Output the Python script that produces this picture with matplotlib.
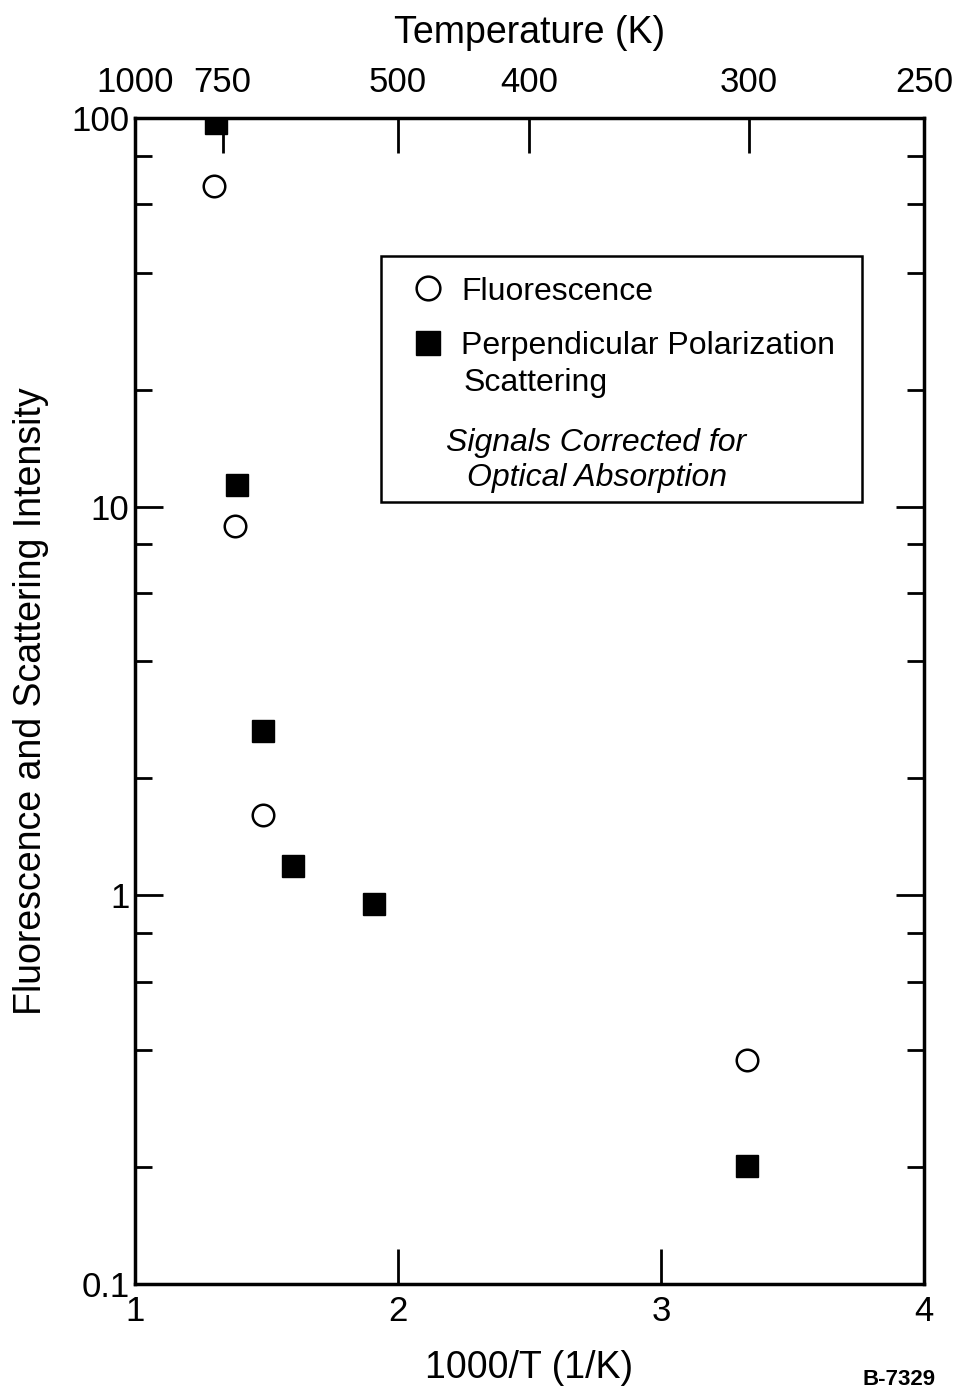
import matplotlib
matplotlib.use("Agg")
from matplotlib import pyplot as plt
from matplotlib.patches import Rectangle

plt.rcParams['font.family'] = ['Liberation Sans', 'DejaVu Sans']

# fluorescence (open circles)
fluor_x = [1.30, 1.38, 1.487, 3.327]
fluor_y = [67.0, 8.9, 1.61, 0.377]

# perpendicular polarization scattering (filled squares)
scat_x = [1.308, 1.388, 1.487, 1.601, 1.909, 3.327]
scat_y = [97.0, 11.4, 2.65, 1.19, 0.95, 0.201]

bottom_ticks = [1, 2, 3, 4]
temp_ticks = [1000, 750, 500, 400, 300, 250]

fig = plt.figure(figsize=(9.56, 13.91), dpi=100)
ax = fig.add_axes([0.1412, 0.0769, 0.8253, 0.8383])

ax.plot(fluor_x, fluor_y, 'o', mfc='white', mec='black', ms=15.5, mew=1.8,
        linestyle='none', label='Fluorescence', zorder=5)
ax.plot(scat_x, scat_y, 's', mfc='black', mec='black', ms=16,
        linestyle='none', label='Perpendicular Polarization', zorder=5)

ax.set_yscale('log')
ax.set_xlim(1, 4)
ax.set_ylim(0.1, 100)

ax.set_xticks(bottom_ticks)
ax.set_xticklabels([str(t) for t in bottom_ticks])
ax.set_yticks([0.1, 1, 10, 100])
ax.set_yticklabels(['0.1', '1', '10', '100'])
ax.yaxis.set_minor_locator(matplotlib.ticker.LogLocator(base=10, subs=[2, 4, 6, 8]))
ax.yaxis.set_minor_formatter(matplotlib.ticker.NullFormatter())

ax.tick_params(axis='both', which='major', direction='in', length=20, width=2,
               labelsize=25)
ax.tick_params(axis='y', which='major', right=True, left=True, pad=4)
ax.tick_params(axis='y', which='minor', direction='in', length=12, width=2,
               right=True, left=True)
ax.tick_params(axis='x', which='major', length=25, pad=8)
for s in ax.spines.values():
    s.set_linewidth(2.5)

ax.set_xlabel('1000/T (1/K)', fontsize=27, labelpad=16)
ax.set_ylabel('Fluorescence and Scattering Intensity', fontsize=27, labelpad=16)

# top temperature axis
ax2 = ax.twiny()
ax2.set_xlim(1, 4)
ax2.set_xticks([1000.0 / t for t in temp_ticks])
ax2.set_xticklabels([str(t) for t in temp_ticks])
ax2.tick_params(axis='x', direction='in', length=25, width=2, labelsize=25, pad=14)
ax2.set_xlabel('Temperature (K)', fontsize=27, labelpad=16)

# legend box
ax.add_patch(Rectangle((0.3118, 0.6707), 0.6096, 0.2109, transform=ax.transAxes,
                       fill=False, edgecolor='black', linewidth=1.8, zorder=4))
leg = ax.legend(loc='upper left', bbox_to_anchor=(0.351, 0.864), frameon=False,
                fontsize=23, handletextpad=0.55, labelspacing=0.78,
                handlelength=1.0, borderaxespad=0, borderpad=0, markerscale=1.1)
ax.text(0.416, 0.773, 'Scattering', transform=ax.transAxes,
        ha='left', va='center', fontsize=23)
ax.text(0.585, 0.706, 'Signals Corrected for\nOptical Absorption', transform=ax.transAxes,
        ha='center', va='center', fontsize=23, style='italic', linespacing=1.2)

fig.text(0.902, 0.001, 'B-7329', fontsize=16, fontweight='bold', va='bottom', ha='left')

fig.savefig('out.png', dpi=100)
